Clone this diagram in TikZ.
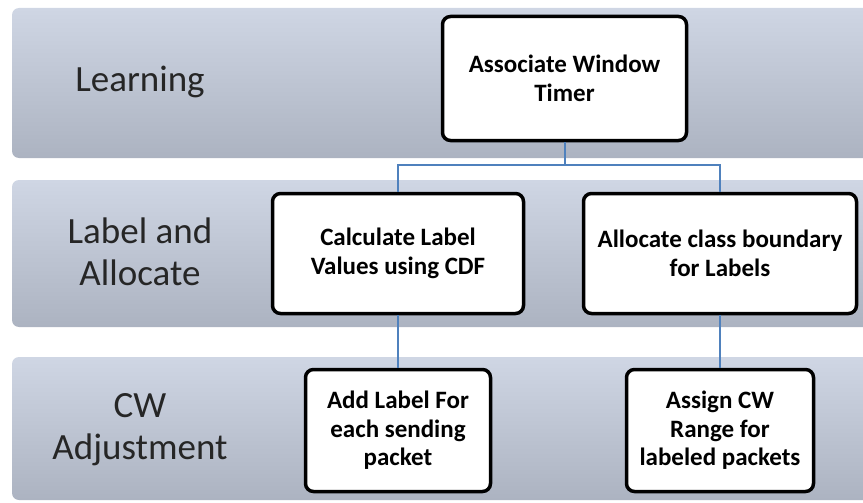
\documentclass[tikz,border=0pt]{standalone}
\usepackage{fontspec}
\setmainfont{Carlito}
\definecolor{bandtop}{RGB}{207,214,228}
\definecolor{bandbot}{RGB}{172,179,193}
\definecolor{linkblue}{RGB}{79,129,189}
\begin{document}
\begin{tikzpicture}[x=1pt,y=-1pt,
    band/.style={rounded corners=7pt,top color=bandtop,bottom color=bandbot},
    stage/.style={font=\fontsize{37}{42}\selectfont,text=black!85,align=center},
    task/.style={draw,line width=3.5pt,rounded corners=8pt,fill=white,align=center,
        inner sep=0pt,font=\bfseries\fontsize{25}{28.5}\selectfont},
    link/.style={draw=linkblue,line width=2pt}]
    \useasboundingbox (0,0) rectangle (863,503);
    \clip (0,0) rectangle (863,503);
    % stage bands
    \shade[band] (12,8) rectangle (900,158);
    \shade[band] (12,180) rectangle (900,327);
    \shade[band] (12,357) rectangle (900,500);
    \node[stage] (learning) at (140,82) {Learning};
    \node[stage] (labelalloc) at (140,252) {Label and\\Allocate};
    \node[stage] (cwadjust) at (140,430) {CW\\Adjustment};
    % tasks
    \node[task,minimum width=244,minimum height=124] (assoc) at (564.5,78.5) {Associate Window\\Timer};
    \node[task,minimum width=251,minimum height=120] (calc) at (398,253.5) {Calculate Label\\Values using CDF};
    \node[task,minimum width=273,minimum height=120] (alloc) at (720,253.5) {Allocate class boundary\\for Labels};
    \node[task,minimum width=185,minimum height=122] (addlabel) at (398,430.5) {Add Label For\\each sending\\packet};
    \node[task,minimum width=187,minimum height=122] (assign) at (720,430.5) {Assign CW\\Range for\\labeled packets};
    % links
    \draw[link] (assoc.south) -- ++(0,23) coordinate (split);
    \draw[link] (calc.north) |- (split) -| (alloc.north);
    \draw[link] (calc) -- (addlabel);
    \draw[link] (alloc) -- (assign);
\end{tikzpicture}
\end{document}
